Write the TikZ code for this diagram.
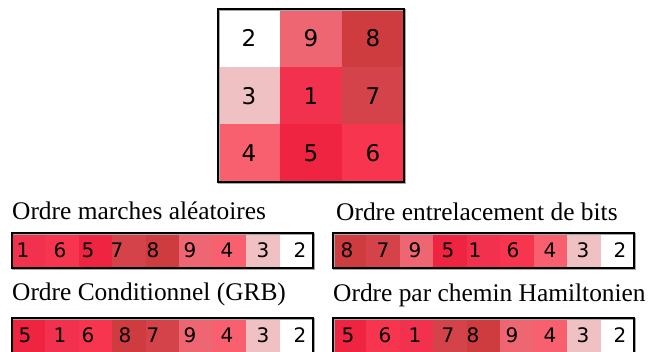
\documentclass[tikz,border=0pt]{standalone}
\usepackage{fontspec}
\setmainfont{Liberation Serif}
\newfontfamily\digitfont{DejaVu Sans}
\definecolor{c1}{HTML}{F2314F}
\definecolor{c2}{HTML}{FFFFFF}
\definecolor{c3}{HTML}{F0C1C3}
\definecolor{c4}{HTML}{F8606F}
\definecolor{c5}{HTML}{EE2440}
\definecolor{c6}{HTML}{F8354F}
\definecolor{c7}{HTML}{D4434A}
\definecolor{c8}{HTML}{CF3C40}
\definecolor{c9}{HTML}{EE6672}
\tikzset{
  griddigit/.style={font=\digitfont\fontsize{23}{23}\selectfont, inner sep=0pt},
  bardigit/.style={font=\digitfont\fontsize{20}{20}\selectfont, inner sep=0pt},
  title/.style={font=\fontsize{25.4}{26}\selectfont, anchor=base west, inner sep=0pt},
  frame/.style={draw=black, line width=1.8pt},
  shadow/.style={draw=black!35, line width=1.2pt},
}
\begin{document}
\begin{tikzpicture}[x=1pt,y=-1pt]
\useasboundingbox (0,0) rectangle (648,351);
\clip (0,0) rectangle (648,351);
% grid
\foreach \d [count=\i from 0] in {2,9,8,3,1,7,4,5,6} {
  \pgfmathtruncatemacro{\col}{mod(\i,3)}
  \pgfmathtruncatemacro{\row}{div(\i,3)}
  \fill[c\d] (218+62*\col,9+57.7*\row) rectangle ++(62,57.7);
  \node[griddigit] (g\d) at (249+62*\col,38+57.7*\row) {\d};
}
\draw[shadow] (219,10) rectangle (405,183);
\draw[frame] (218,9) rectangle (404,182);
% titles
\node[title] (tA) at (12,219) {Ordre marches aléatoires};
\node[title] (tB) at (336,220) {Ordre entrelacement de bits};
\node[title] (tC) at (12,300) {Ordre Conditionnel (GRB)};
\node[title] (tD) at (333,301) {Ordre par chemin Hamiltonien};
% bar A
\foreach \d/\px [count=\i from 0] in {1/23,6/60,5/88,7/117,8/153,9/190,4/227,3/263,2/300} {
  \fill[c\d] (11.7+33.5*\i,233) rectangle ++(33.5,35);
  \node[bardigit] (a\i) at (\px,250.5) {\d};
}
\draw[shadow] (12.7,234) rectangle (314,269);
\draw[frame] (11.7,233) rectangle (313,268);
% bar B
\foreach \d/\px [count=\i from 0] in {8/347,7/383,9/415,5/448,1/475,6/513,4/550,3/583,2/620} {
  \fill[c\d] (333+33.44*\i,233) rectangle ++(33.44,35);
  \node[bardigit] (b\i) at (\px,250.5) {\d};
}
\draw[shadow] (334,234) rectangle (635,269);
\draw[frame] (333,233) rectangle (634,268);
% bar C
\foreach \d/\px [count=\i from 0] in {5/25,1/60,6/88,8/125,7/153,9/190,4/227,3/263,2/300} {
  \fill[c\d] (11.7+33.5*\i,318) rectangle ++(33.5,35);
  \node[bardigit] (cc\i) at (\px,335.5) {\d};
}
\draw[shadow] (12.7,319) rectangle (314,354);
\draw[frame] (11.7,318) rectangle (313,353);
% bar D
\foreach \d/\px [count=\i from 0] in {5/348,6/385,1/415,7/448,8/473,9/512,4/550,3/583,2/620} {
  \fill[c\d] (333+33.44*\i,318) rectangle ++(33.44,35);
  \node[bardigit] (dd\i) at (\px,335.5) {\d};
}
\draw[shadow] (334,319) rectangle (635,354);
\draw[frame] (333,318) rectangle (634,353);
\end{tikzpicture}
\end{document}
